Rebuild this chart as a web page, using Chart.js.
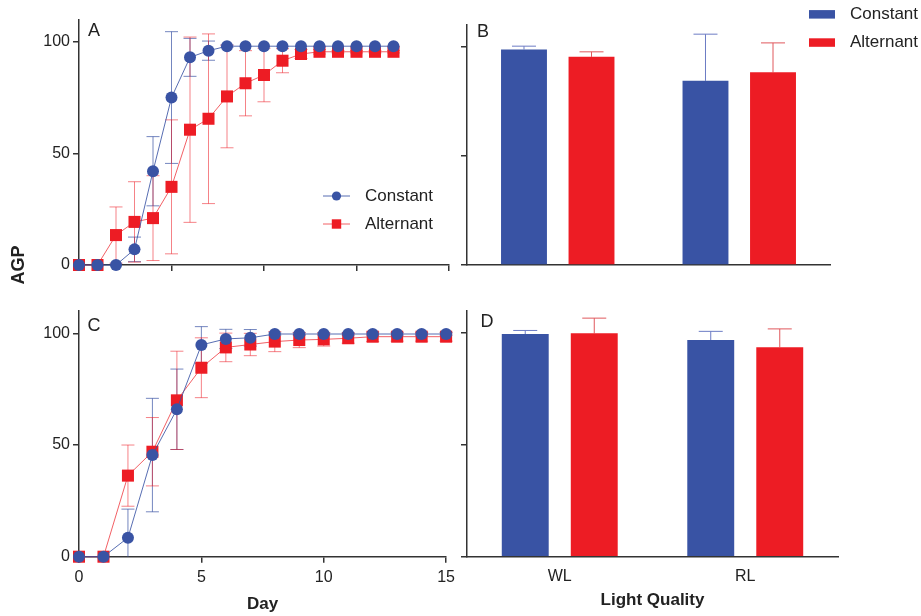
<!DOCTYPE html>
<html lang="en">
<head>
  <meta charset="UTF-8" />
  <title>AGP - Constant vs Alternant</title>
  <script src="https://cdn.jsdelivr.net/npm/chart.js"></script>
  <style>
    body { margin: 0; background: #fff; }
    .wrap { position: relative; width: 921px; height: 616px; overflow: hidden; }
    canvas { position: absolute; }
  </style>
</head>
<body>
  <div class="wrap">
    <canvas id="chartA" width="460" height="290" style="left:0;top:0"></canvas>
    <canvas id="chartB" width="461" height="290" style="left:460px;top:0"></canvas>
    <canvas id="chartC" width="460" height="326" style="left:0;top:290px"></canvas>
    <canvas id="chartD" width="461" height="326" style="left:460px;top:290px"></canvas>
  </div>

  <script>
    // --- data ---
    const seriesNames = ['Constant', 'Alternant'];
    const yTicks = [0, 50, 100];
    const dayTicksA = [0, 5, 10, 15, 20];
    const dayTicksC = [0, 5, 10, 15];
    const lightCats = ['WL', 'RL'];

    // panel A
    const daysA = [0, 1, 2, 3, 4, 5, 6, 7, 8, 9, 10, 11, 12, 13, 14, 15, 16, 17];
    const constantA    = [0, 0, 0, 7, 42, 75, 93, 96, 98, 98, 98, 98, 98, 98, 98, 98, 98, 98];
    const constantAErr = [0, 0, 0, 5.5, 15.5, 29.5, 8.5, 4.3, 0.5, 0, 0, 0, 0, 0, 0, 0, 0, 0];
    const alternantA    = [0, 0, 13.4, 19.3, 21, 35, 60.6, 65.5, 75.5, 81.4, 85.1, 91.5, 94.5, 95.5, 95.5, 95.5, 95.5, 95.5];
    const alternantAErr = [0, 0, 12.6, 18, 19, 30, 41.5, 38, 23, 14.6, 12, 5.4, 2, 1, 0.5, 0.5, 0.5, 0.5];

    // panel C
    const daysC = [0, 1, 2, 3, 4, 5, 6, 7, 8, 9, 10, 11, 12, 13, 14, 15];
    const constantC    = [0, 0, 8.5, 45.5, 66, 94.8, 97.5, 98, 99.7, 99.7, 99.7, 99.7, 99.7, 99.7, 99.7, 99.7];
    const constantCErr = [0, 0, 12.8, 25.4, 18, 8.2, 4.3, 3.7, 0.5, 0.5, 0.5, 0.5, 0.5, 0.5, 0.5, 0.5];
    const alternantC    = [0, 0, 36.3, 47, 70, 84.6, 93.7, 95, 96.3, 97, 97.3, 97.8, 98.5, 98.5, 98.5, 98.5];
    const alternantCErr = [0, 0, 13.7, 15.3, 22, 13.4, 6.4, 5, 4.5, 3.4, 3, 2.2, 2.2, 2, 2, 2];

    // panels B and D (WL, RL)
    const constantB    = [98.8, 84.4];
    const constantBErr = [1.5, 21.4];
    const alternantB    = [95.4, 88.3];
    const alternantBErr = [2.3, 13.5];
    const constantD    = [99.4, 96.7];
    const constantDErr = [1.6, 3.9];
    const alternantD    = [99.7, 93.5];
    const alternantDErr = [6.8, 8.2];

    const BLUE = '#3953a4';
    const RED = '#ed1c24';
    const FONT = "'Liberation Sans', Arial, sans-serif";

    Chart.defaults.font.family = FONT;
    Chart.defaults.font.size = 16;
    Chart.defaults.color = '#222';
    Chart.defaults.animation = false;

    // error bars, drawn under the markers
    const errorBars = {
      id: 'errorBars',
      beforeDatasetsDraw(chart, args, opts) {
        const ctx = chart.ctx, ys = chart.scales.y, a = chart.chartArea;
        ctx.save();
        ctx.beginPath();
        ctx.rect(a.left - 20, a.top - 20, a.right - a.left + 40, a.bottom - a.top + 20);
        ctx.clip();
        chart.data.datasets.forEach((ds, i) => {
          const meta = chart.getDatasetMeta(i);
          ctx.strokeStyle = ds.errorColor;
          ctx.lineWidth = 1;
          meta.data.forEach((el, j) => {
            const e = ds.errors[j];
            if (!e) return;
            const v = typeof ds.data[j] === 'object' ? ds.data[j].y : ds.data[j];
            const top = ys.getPixelForValue(v + e);
            const bot = opts.oneSided ? el.y : ys.getPixelForValue(v - e);
            const w = opts.cap;
            ctx.beginPath();
            ctx.moveTo(el.x, top); ctx.lineTo(el.x, bot);
            ctx.moveTo(el.x - w, top); ctx.lineTo(el.x + w, top);
            if (!opts.oneSided) { ctx.moveTo(el.x - w, bot); ctx.lineTo(el.x + w, bot); }
            ctx.stroke();
          });
        });
        ctx.restore();
      }
    };

    // legends built from the datasets
    const customLegend = {
      id: 'customLegend',
      afterDraw(chart, args, o) {
        const ctx = chart.ctx;
        chart.data.datasets.forEach((ds, i) => {
          const y = o.y + i * o.gap;
          ctx.save();
          if (o.style === 'line') {
            ctx.strokeStyle = ds.borderColor;
            ctx.lineWidth = 1;
            ctx.beginPath(); ctx.moveTo(o.x, y); ctx.lineTo(o.x + o.w, y); ctx.stroke();
            ctx.fillStyle = ds.pointBackgroundColor;
            const cx = o.x + o.w / 2;
            if (ds.pointStyle === 'rect') ctx.fillRect(cx - 4.7, y - 4.7, 9.4, 9.4);
            else { ctx.beginPath(); ctx.arc(cx, y, 4.6, 0, Math.PI * 2); ctx.fill(); }
          } else {
            ctx.fillStyle = ds.backgroundColor;
            ctx.fillRect(o.x, y - 4.2, o.w, 8.5);
          }
          ctx.fillStyle = '#222';
          ctx.font = o.font;
          ctx.textBaseline = 'middle';
          ctx.fillText(ds.label, o.textX, y);
          ctx.restore();
        });
      }
    };

    // panel letters and the shared y title
    const texts = {
      id: 'texts',
      afterDraw(chart, args, o) {
        const ctx = chart.ctx;
        (o.items || []).forEach(t => {
          ctx.save();
          ctx.font = t.font;
          ctx.fillStyle = '#222';
          ctx.textAlign = 'center';
          ctx.textBaseline = 'middle';
          ctx.translate(t.x, t.y);
          if (t.rot) ctx.rotate(t.rot);
          ctx.fillText(t.text, 0, 0);
          ctx.restore();
        });
      }
    };

    const border = { color: '#333', width: 1.5 };
    const tickMarks = { drawOnChartArea: false, drawTicks: true, tickLength: 6, color: '#333', lineWidth: 1.5 };

    function lineChart(id, days, xTicks, xMax, cv, ce, av, ae, cfg) {
      return new Chart(document.getElementById(id), {
        type: 'scatter',
        data: {
          datasets: [
            {
              label: seriesNames[0],
              data: days.map((d, i) => ({ x: d, y: cv[i] })),
              errors: ce,
              errorColor: 'rgba(57,83,164,0.7)',
              showLine: true,
              clip: false,
              borderColor: 'rgba(57,83,164,0.85)',
              borderWidth: 1,
              pointStyle: 'circle',
              pointRadius: 6,
              pointBackgroundColor: BLUE,
              pointBorderColor: BLUE,
              pointBorderWidth: 0
            },
            {
              label: seriesNames[1],
              data: days.map((d, i) => ({ x: d, y: av[i] })),
              errors: ae,
              errorColor: 'rgba(237,28,36,0.55)',
              showLine: true,
              clip: false,
              borderColor: 'rgba(237,28,36,0.7)',
              borderWidth: 1,
              pointStyle: 'rect',
              pointRadius: 8.5,
              pointBackgroundColor: RED,
              pointBorderColor: RED,
              pointBorderWidth: 0
            }
          ]
        },
        options: {
          responsive: false,
          devicePixelRatio: 1,
          layout: { padding: cfg.padding },
          plugins: {
            legend: { display: false },
            tooltip: { enabled: false },
            errorBars: { cap: 6.5, oneSided: false },
            customLegend: cfg.legend,
            texts: { items: cfg.texts }
          },
          scales: {
            x: {
              type: 'linear', min: 0, max: xMax,
              border: border, grid: tickMarks,
              afterBuildTicks: s => { s.ticks = xTicks.map(v => ({ value: v })); },
              afterFit: s => { s.height = cfg.xHeight; },
              ticks: { display: cfg.xLabels, padding: 5, font: { size: 16 } },
              title: { display: !!cfg.xTitle, text: cfg.xTitle, font: { size: 17, weight: 'bold' }, padding: { top: 0, bottom: 1 } }
            },
            y: {
              min: 0, max: 110,
              border: border, grid: tickMarks,
              afterBuildTicks: s => { s.ticks = yTicks.map(v => ({ value: v })); },
              afterFit: s => { s.width = 79; },
              ticks: { padding: 3, font: { size: 16 } }
            }
          }
        },
        plugins: cfg.legend ? [errorBars, customLegend, texts] : [errorBars, texts]
      });
    }

    function barChart(id, cv, ce, av, ae, cfg) {
      return new Chart(document.getElementById(id), {
        type: 'bar',
        data: {
          labels: lightCats,
          datasets: [
            { label: seriesNames[0], data: cv, errors: ce, errorColor: '#6c7cc4', backgroundColor: BLUE },
            { label: seriesNames[1], data: av, errors: ae, errorColor: '#e0585d', backgroundColor: RED }
          ]
        },
        options: {
          responsive: false,
          devicePixelRatio: 1,
          layout: { padding: cfg.padding },
          datasets: { bar: { categoryPercentage: 0.744, barPercentage: 0.68 } },
          plugins: {
            legend: { display: false },
            tooltip: { enabled: false },
            errorBars: { cap: 12, oneSided: true },
            customLegend: cfg.legend,
            texts: { items: cfg.texts }
          },
          scales: {
            x: {
              border: border, grid: { display: false },
              afterFit: s => { s.height = cfg.xHeight; },
              ticks: { display: cfg.xLabels, padding: 2, font: { size: 16 } },
              title: { display: !!cfg.xTitle, text: cfg.xTitle, font: { size: 17, weight: 'bold' }, padding: { top: 0, bottom: 5 } }
            },
            y: {
              min: 0, max: 110,
              border: border, grid: tickMarks,
              afterBuildTicks: s => { s.ticks = yTicks.map(v => ({ value: v })); },
              afterFit: s => { s.width = 7; },
              ticks: { display: false }
            }
          }
        },
        plugins: cfg.legend ? [errorBars, customLegend, texts] : [errorBars, texts]
      });
    }

    lineChart('chartA', daysA, dayTicksA, 20, constantA, constantAErr, alternantA, alternantAErr, {
      padding: { left: 0, right: 11, top: 19.4, bottom: 0 },
      xHeight: 25, xLabels: false, xTitle: '',
      legend: { style: 'line', x: 323, w: 27, y: 196, gap: 28, textX: 365, font: '17px ' + FONT },
      texts: [
        { text: 'A', x: 94, y: 31, font: '18px ' + FONT },
        { text: 'AGP', x: 19, y: 265, rot: -Math.PI / 2, font: 'bold 18px ' + FONT }
      ]
    });

    lineChart('chartC', daysC, dayTicksC, 15, constantC, constantCErr, alternantC, alternantCErr, {
      padding: { left: 0, right: 11, top: 21, bottom: 0 },
      xHeight: 59.3, xLabels: true, xTitle: 'Day',
      legend: null,
      texts: [{ text: 'C', x: 94, y: 36, font: '18px ' + FONT }]
    });

    barChart('chartB', constantB, constantBErr, alternantB, alternantBErr, {
      padding: { left: 0, right: 91, top: 25, bottom: 0 },
      xHeight: 25, xLabels: false, xTitle: '',
      legend: { style: 'box', x: 349, w: 26, y: 14.3, gap: 28.2, textX: 390, font: '17px ' + FONT },
      texts: [{ text: 'B', x: 23, y: 32.5, font: '18px ' + FONT }]
    });

    barChart('chartD', constantD, constantDErr, alternantD, alternantDErr, {
      padding: { left: 0, right: 83, top: 20.3, bottom: 0 },
      xHeight: 59.3, xLabels: true, xTitle: 'Light Quality',
      legend: null,
      texts: [{ text: 'D', x: 27, y: 32, font: '18px ' + FONT }]
    });
  </script>
</body>
</html>
